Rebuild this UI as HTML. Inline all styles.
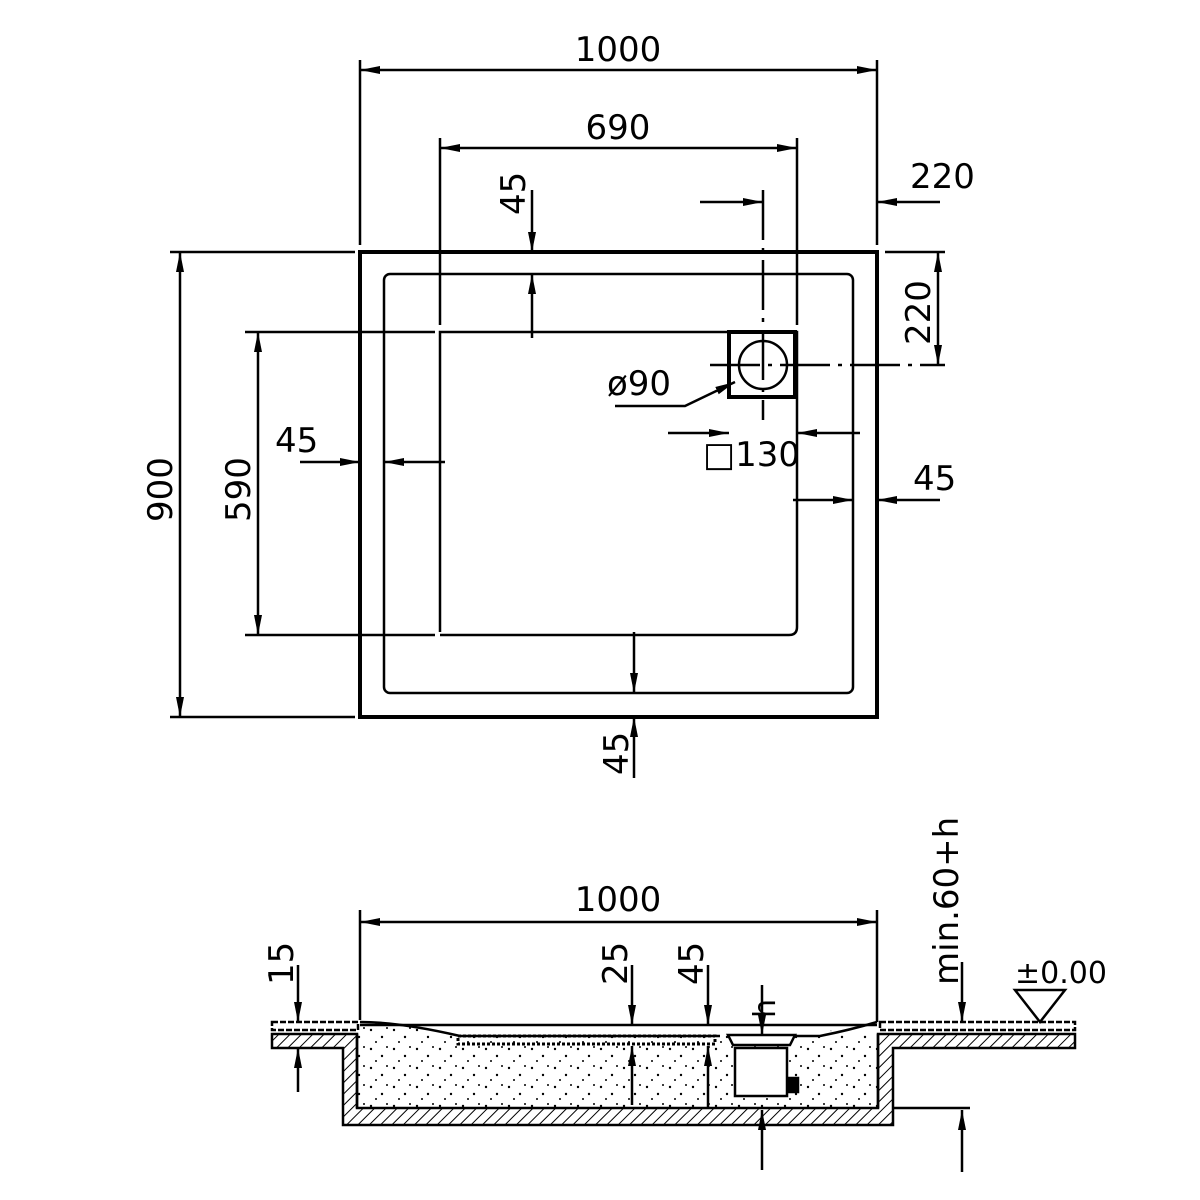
<!DOCTYPE html>
<html><head><meta charset="utf-8"><style>html,body{margin:0;padding:0;background:#fff}svg{display:block}</style></head><body>
<svg width="1200" height="1200" viewBox="0 0 1200 1200" xmlns="http://www.w3.org/2000/svg" font-family="'DejaVu Sans','Liberation Sans',sans-serif" font-size="34" fill="none" stroke="#000">
<defs>
<marker id="a" viewBox="0 0 20 10" refX="20" refY="5" markerWidth="20" markerHeight="10" markerUnits="userSpaceOnUse" orient="auto"><path d="M0,1 L20,5 L0,9z" fill="#000" stroke="none"/></marker>
<pattern id="h" width="8" height="8" patternUnits="userSpaceOnUse" patternTransform="rotate(45)"><line x1="0" y1="0" x2="0" y2="8" stroke="#000" stroke-width="2"/></pattern>
<pattern id="d" width="23" height="19" patternUnits="userSpaceOnUse"><circle cx="3" cy="4" r="1.2" fill="#000" stroke="none"/><circle cx="14" cy="11" r="1.2" fill="#000" stroke="none"/><circle cx="8" cy="16" r="1" fill="#000" stroke="none"/><circle cx="19" cy="2" r="1" fill="#000" stroke="none"/></pattern>
</defs>
<g stroke-width="2.5">
<!-- top view -->
<rect x="360" y="252" width="517" height="465" stroke-width="4"/>
<rect x="384" y="274" width="469" height="419" rx="6"/>
<path d="M440,632 V332 H797 V627 Q797,635 789,635 H440"/>
<rect x="729" y="332" width="66" height="65" stroke-width="4"/>
<circle cx="763" cy="365" r="24"/>
<line x1="763" y1="190" x2="763" y2="420" stroke-dasharray="50,8,4,8"/>
<line x1="710" y1="365" x2="945" y2="365" stroke-dasharray="50,8,4,8"/>
<!-- ext lines -->
<line x1="360" y1="60" x2="360" y2="245"/><line x1="877" y1="60" x2="877" y2="245"/>
<line x1="440" y1="138" x2="440" y2="325"/><line x1="797" y1="138" x2="797" y2="325"/>
<line x1="170" y1="252" x2="355" y2="252"/><line x1="170" y1="717" x2="355" y2="717"/>
<line x1="245" y1="332" x2="435" y2="332"/><line x1="245" y1="635" x2="435" y2="635"/>
<line x1="885" y1="252" x2="945" y2="252"/>
<!-- dims -->
<path d="M618,70 H360" marker-end="url(#a)"/><path d="M618,70 H877" marker-end="url(#a)"/>
<path d="M618,148 H440" marker-end="url(#a)"/><path d="M618,148 H797" marker-end="url(#a)"/>
<path d="M180,485 V252" marker-end="url(#a)"/><path d="M180,485 V717" marker-end="url(#a)"/>
<path d="M258,485 V332" marker-end="url(#a)"/><path d="M258,485 V635" marker-end="url(#a)"/>
<path d="M532,190 V252" marker-end="url(#a)"/><path d="M532,338 V274" marker-end="url(#a)"/>
<path d="M700,202 H763" marker-end="url(#a)"/><path d="M940,202 H877" marker-end="url(#a)"/>
<path d="M938,310 V252" marker-end="url(#a)"/><path d="M938,310 V365" marker-end="url(#a)"/>
<path d="M615,406 H685 L735,382" marker-end="url(#a)"/>
<path d="M668,433 H729" marker-end="url(#a)"/><path d="M860,433 H797" marker-end="url(#a)"/>
<path d="M300,462 H360" marker-end="url(#a)"/><path d="M445,462 H384" marker-end="url(#a)"/>
<path d="M793,500 H853" marker-end="url(#a)"/><path d="M940,500 H877" marker-end="url(#a)"/>
<path d="M634,632 V693" marker-end="url(#a)"/><path d="M634,778 V717" marker-end="url(#a)"/>
</g>
<g fill="#000" stroke="none">
<text x="618" y="61" text-anchor="middle">1000</text>
<text x="618" y="139" text-anchor="middle">690</text>
<text x="910" y="188">220</text>
<text x="607" y="395">ø90</text>
<text x="703" y="466">□130</text>
<text x="275" y="452">45</text>
<text x="913" y="490">45</text>
<text transform="translate(525,215) rotate(-90)">45</text>
<text transform="translate(930,345) rotate(-90)">220</text>
<text transform="translate(172,522) rotate(-90)">900</text>
<text transform="translate(250,522) rotate(-90)">590</text>
<text transform="translate(628,775) rotate(-90)">45</text>
<text x="618" y="911" text-anchor="middle">1000</text>
<text transform="translate(293,985) rotate(-90)">15</text>
<text transform="translate(627,985) rotate(-90)">25</text>
<text transform="translate(703,985) rotate(-90)">45</text>
<text transform="translate(775,1018) rotate(-90)" font-size="30">h</text>
<text transform="translate(958,985) rotate(-90)">min.60+h</text>
<text x="1015" y="983" font-size="30">±0.00</text>
</g>
<!-- section -->
<g stroke-width="2.5">
<line x1="360" y1="910" x2="360" y2="1020"/><line x1="877" y1="910" x2="877" y2="1022"/>
<path d="M618,922 H360" marker-end="url(#a)"/><path d="M618,922 H877" marker-end="url(#a)"/>
<rect x="272" y="1022" width="86" height="8" stroke-dasharray="6,2"/>
<rect x="880" y="1022" width="195" height="8" stroke-dasharray="6,2"/>
<path d="M272,1034 H357 V1108 H878 V1034 H1075 V1048 H893 V1125 H343 V1048 H272z" fill="url(#h)"/>
<path d="M357,1034 V1108 H878 V1034 H877 L820,1030 Q820,1030 795,1035 H735 L720,1036 H460 L400,1025 L360,1022z" fill="url(#d)" stroke="none"/>
<line x1="357" y1="1034" x2="357" y2="1108"/><line x1="878" y1="1034" x2="878" y2="1108"/>
<line x1="360" y1="1025" x2="877" y2="1025"/>
<path d="M360,1022 Q400,1022 460,1036 H720"/>
<path d="M795,1036 H820 Q850,1030 877,1022"/>
<rect x="458" y="1036" width="257" height="8" stroke-dasharray="3,2" stroke-width="3"/>
<path d="M728,1035 H795 L790,1045 H733z" fill="#fff"/>
<rect x="735" y="1048" width="52" height="48" fill="#fff"/>
<rect x="788" y="1078" width="10" height="14" fill="#000"/>
<line x1="893" y1="1108" x2="970" y2="1108"/>
<path d="M298,965 V1022" marker-end="url(#a)"/><path d="M298,1092 V1048" marker-end="url(#a)"/>
<path d="M632,965 V1025" marker-end="url(#a)"/><path d="M632,1105 V1046" marker-end="url(#a)"/>
<path d="M708,965 V1025" marker-end="url(#a)"/><path d="M708,1108 V1046" marker-end="url(#a)"/>
<path d="M762,985 V1035" marker-end="url(#a)"/><path d="M762,1170 V1110" marker-end="url(#a)"/>
<path d="M962,962 V1022" marker-end="url(#a)"/><path d="M962,1172 V1110" marker-end="url(#a)"/>
<path d="M1015,990 H1065 L1040,1022z"/>
</g>
</svg>
</body></html>
